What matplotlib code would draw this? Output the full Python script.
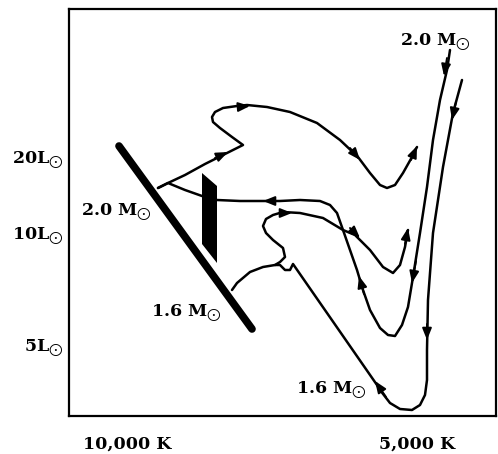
import matplotlib
matplotlib.use("Agg")
import matplotlib.pyplot as plt

plt.rcParams['font.family'] = ['DejaVu Serif']
plt.rcParams['mathtext.fontset'] = 'dejavuserif'

SUN = r'$_{\bigodot}$'

# Abstract diagram coordinates: x = temperature coordinate (increasing to the right = cooler),
# y = luminosity coordinate (increasing upward)
xticks_pos = [127, 417]
xtick_labels = ['10,000 K', '5,000 K']
yticks_pos = [259, 183, 71]
ytick_labels = ['20L' + SUN, '10L' + SUN, '5L' + SUN]

# Zero-age main sequence band
ms_x = [119, 252]
ms_y = [270, 87]

# Instability strip (filled)
strip_x = [202, 217, 217, 202]
strip_y = [243, 230, 153, 172]

# 2.0 Msun, upper loop track
t20a_x = [158, 168, 185, 205, 227, 243, 232, 220, 213, 212, 215, 223, 237, 247, 267, 290, 317, 340, 358, 370, 380, 387, 395, 403, 412, 417]
t20a_y = [228, 233, 241, 252, 263, 271, 279, 288, 294, 299, 304, 308, 310, 311, 309, 304, 293, 276, 259, 243, 231, 228, 231, 243, 259, 269]

# 2.0 Msun, horizontal track into red giant branch
t20b_x = [158, 168, 185, 202, 217, 240, 260, 280, 300, 320, 330, 337, 343, 350, 357, 363, 370, 380, 388, 395, 402, 408, 413, 420, 427, 433, 440, 447, 450]
t20b_y = [228, 233, 226, 220, 216, 215, 215, 215, 216, 215, 211, 203, 186, 166, 146, 126, 106, 88, 81, 80, 91, 109, 139, 183, 229, 276, 316, 346, 366]

# 1.6 Msun, track leaving main sequence with loop
t16a_x = [232, 237, 250, 263, 275, 280, 285, 283, 273, 266, 263, 266, 273, 283, 300, 323, 343, 355, 370, 383, 393, 400, 405, 408]
t16a_y = [126, 133, 144, 149, 151, 154, 159, 168, 176, 183, 190, 197, 201, 204, 203, 198, 186, 181, 166, 149, 143, 151, 169, 186]

# 1.6 Msun, descending branch and giant branch
t16b_x = [275, 280, 285, 290, 293, 377, 380, 390, 400, 412, 420, 425, 427, 427, 428, 433, 443, 453, 462]
t16b_y = [151, 151, 146, 146, 152, 31, 26, 13, 7, 6, 11, 21, 36, 66, 116, 183, 249, 303, 336]

# Direction arrows: tail -> head
arr_x0 = [215, 238, 350, 411, 275, 280, 350, 405, 364, 416, 447, 456, 427, 386]
arr_y0 = [258, 309, 268, 256, 215, 203, 188, 172, 122, 155, 358, 314, 92, 19]
arr_x1 = [228, 250, 360, 417, 263, 292, 360, 408, 359, 412, 444, 452, 427, 375]
arr_y1 = [264, 310, 256, 270, 215, 203, 178, 188, 140, 133, 340, 296, 76, 35]

# Mass labels
lab_text = ['2.0 M' + SUN, '1.6 M' + SUN, '1.6 M' + SUN, '2.0 M' + SUN]
lab_x = [152, 222, 367, 471]
lab_y = [204, 103, 26, 374]

fig = plt.figure(figsize=(4.98, 4.54), dpi=100)
ax = fig.add_axes([69/498, 38/454, 427/498, 407/454])
ax.set_xlim(69, 496)
ax.set_ylim(0, 407)

ax.plot(ms_x, ms_y, color='black', lw=5.5, solid_capstyle='round')
ax.fill(strip_x, strip_y, color='black', lw=0)
for xs, ys in [(t20a_x, t20a_y), (t20b_x, t20b_y), (t16a_x, t16a_y), (t16b_x, t16b_y)]:
    ax.plot(xs, ys, color='black', lw=1.8, solid_joinstyle='round', solid_capstyle='round')

for x0, y0, x1, y1 in zip(arr_x0, arr_y0, arr_x1, arr_y1):
    ax.annotate('', xy=(x1, y1), xytext=(x0, y0),
                arrowprops=dict(arrowstyle='-|>,head_length=0.7,head_width=0.28',
                                color='black', lw=1.4, shrinkA=0, shrinkB=0))

for t, x, y in zip(lab_text, lab_x, lab_y):
    ax.text(x, y, t, ha='right', va='center', fontsize=12.5, fontweight='bold')

ax.set_xticks(xticks_pos)
ax.set_xticklabels(xtick_labels, fontsize=12.5, fontweight='bold')
ax.set_yticks(yticks_pos)
ax.set_yticklabels(ytick_labels, fontsize=12.5, fontweight='bold')
ax.tick_params(axis='both', length=0)
ax.tick_params(axis='x', pad=14)
ax.tick_params(axis='y', pad=4)
for s in ax.spines.values():
    s.set_linewidth(1.6)

fig.savefig('out.png', dpi=100)
